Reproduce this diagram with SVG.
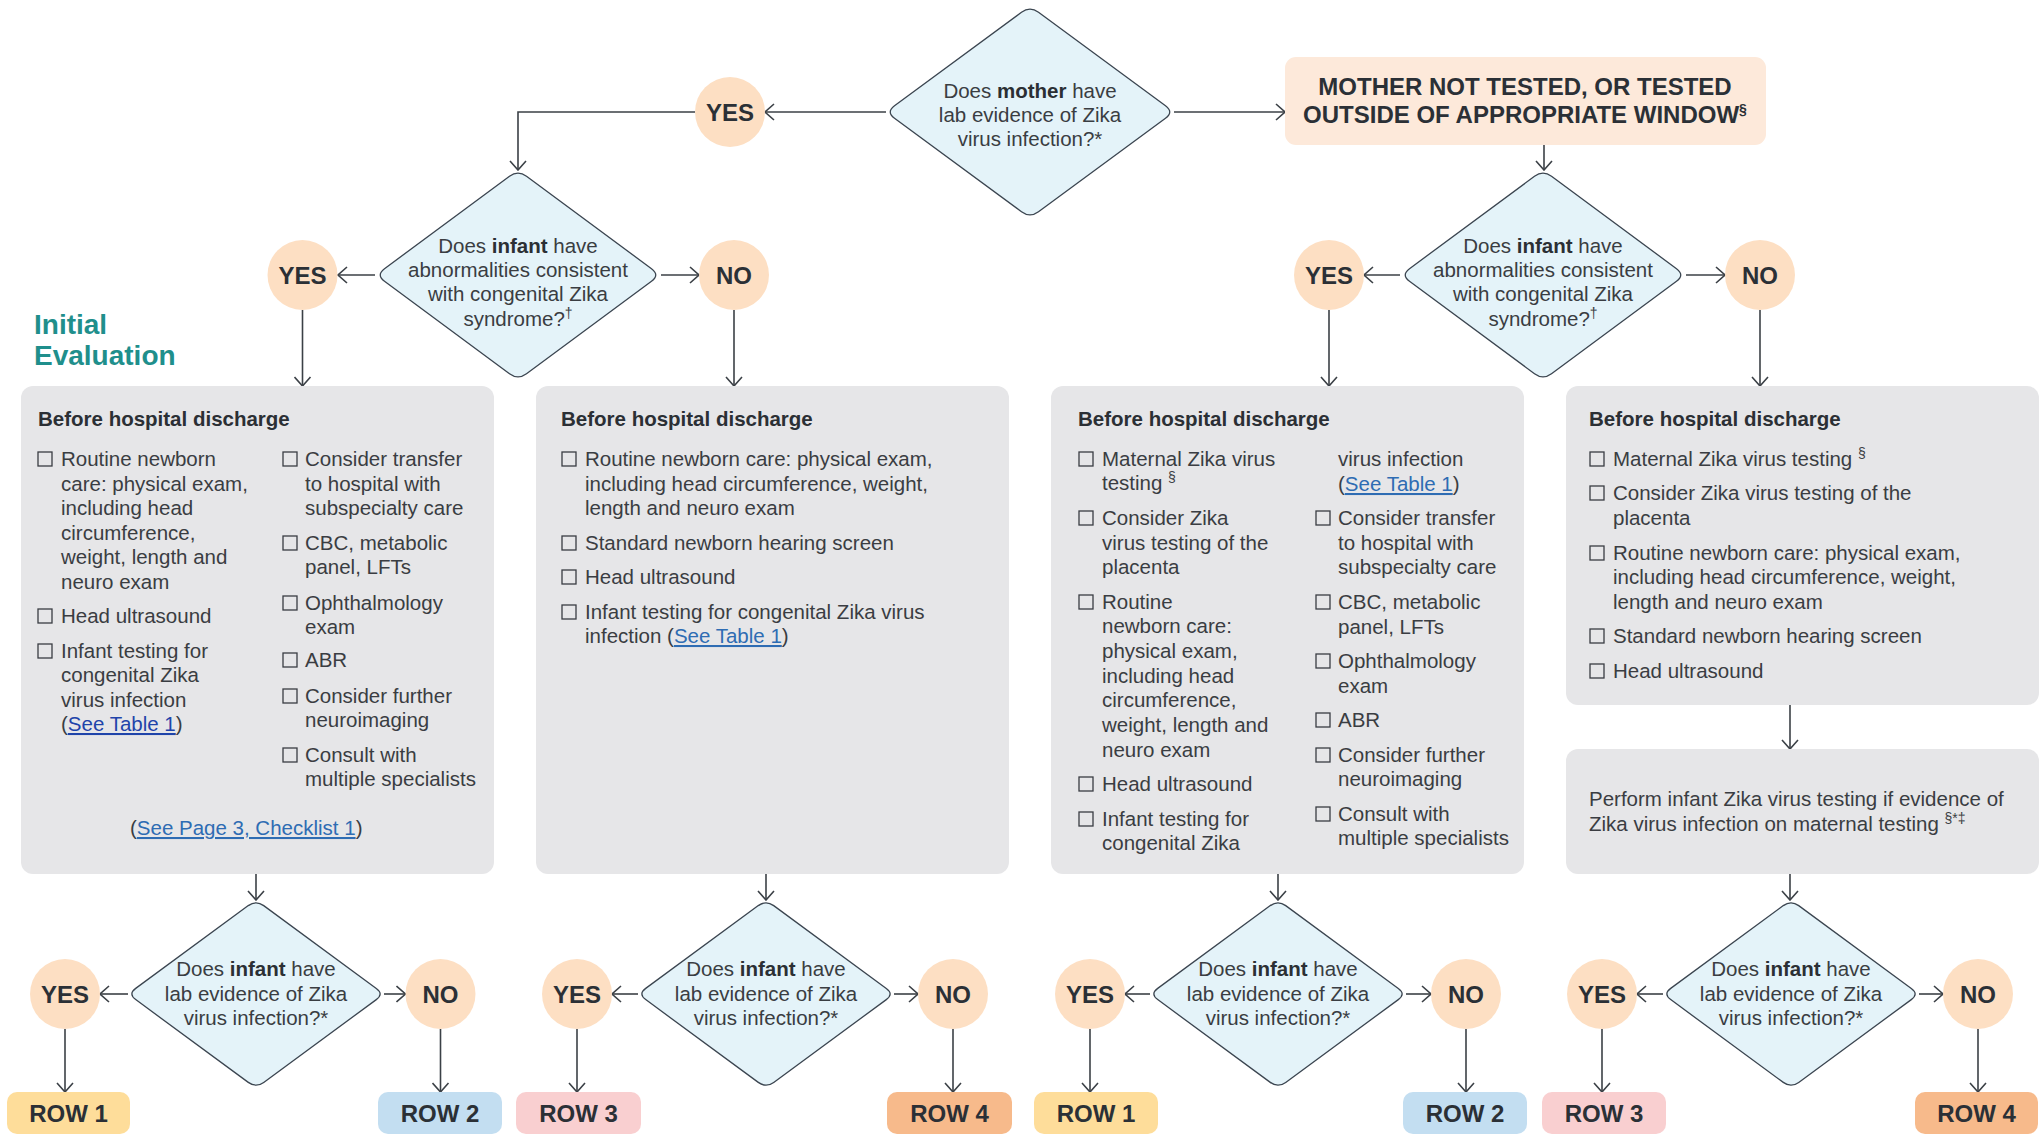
<svg xmlns="http://www.w3.org/2000/svg" width="2040" height="1135" viewBox="0 0 2040 1135">
<style>
.t{font-family:"Liberation Sans",Arial,Helvetica,sans-serif;font-size:20.5px;fill:#3a3d42}
.b{font-weight:bold;fill:#2b2f34}
.m{text-anchor:middle}
.lbl{font-family:"Liberation Sans",Arial,Helvetica,sans-serif;font-size:24px;font-weight:bold;fill:#2b3036;text-anchor:middle}
.ev{font-family:"Liberation Sans",Arial,Helvetica,sans-serif;font-size:28px;font-weight:bold;fill:#1f8f8c}
.lk{fill:#2e6cb3;text-decoration:underline}
.lk1{fill:#1f44aa;text-decoration:underline}
.cb{fill:none;stroke:#3a3d42;stroke-width:1.3}
.box{fill:#e6e6e8}
.dia{fill:#e4f3f9;stroke:#3b4550;stroke-width:1.3}
.circ{fill:#fddfc3}
.conn{fill:none;stroke:#3b4046;stroke-width:1.6;marker-end:url(#arr)}
.sup{font-size:14px}
</style>
<defs>
<marker id="arr" viewBox="0 0 11 18" refX="10" refY="9" markerWidth="11" markerHeight="18" markerUnits="userSpaceOnUse" orient="auto">
<path d="M1,1 L10,9 L1,17" fill="none" stroke="#3b4046" stroke-width="1.6"/>
</marker>
<path id="dBig" d="M-8.5,-98.7 Q0,-105 8.5,-98.7 L133.5,-6.3 Q142,0 133.5,6.3 L8.5,98.7 Q0,105 -8.5,98.7 L-133.5,6.3 Q-142,0 -133.5,-6.3 Z"/>
<path id="dMom" d="M-8.5,-99.7 Q0,-106 8.5,-99.7 L135.5,-6.3 Q144,0 135.5,6.3 L8.5,99.7 Q0,106 -8.5,99.7 L-135.5,6.3 Q-144,0 -135.5,-6.3 Z"/>
<path id="dSm" d="M-7.7,-88.4 Q0,-94 7.7,-88.4 L120.3,-5.6 Q128,0 120.3,5.6 L7.7,88.4 Q0,94 -7.7,88.4 L-120.3,5.6 Q-128,0 -120.3,-5.6 Z"/>
</defs>

<g id="connectors">
<path class="conn" d="M886,112 L765,112"/>
<path class="conn" d="M695,112 L518,112 L518,170"/>
<path class="conn" d="M1174,112 L1285,112"/>
<path class="conn" d="M1544,145 L1544,170"/>
<path class="conn" d="M375,275 L338,275"/>
<path class="conn" d="M661,275 L699,275"/>
<path class="conn" d="M302.5,310 L302.5,386"/>
<path class="conn" d="M734,310 L734,386"/>
<path class="conn" d="M1400,275 L1364,275"/>
<path class="conn" d="M1686,275 L1725,275"/>
<path class="conn" d="M1329,310 L1329,386"/>
<path class="conn" d="M1760,310 L1760,386"/>
<path class="conn" d="M256,874 L256,900"/>
<path class="conn" d="M766,874 L766,900"/>
<path class="conn" d="M1278,874 L1278,900"/>
<path class="conn" d="M1790,874 L1790,900"/>
<path class="conn" d="M1790,705 L1790,749"/>
<path class="conn" d="M128,994 L100,994"/>
<path class="conn" d="M384,994 L405.5,994"/>
<path class="conn" d="M638,994 L612,994"/>
<path class="conn" d="M894,994 L918,994"/>
<path class="conn" d="M1150,994 L1125,994"/>
<path class="conn" d="M1406,994 L1431,994"/>
<path class="conn" d="M1663,994 L1637,994"/>
<path class="conn" d="M1919,994 L1943,994"/>
<path class="conn" d="M65,1029 L65,1092"/>
<path class="conn" d="M440.5,1029 L440.5,1092"/>
<path class="conn" d="M577,1029 L577,1092"/>
<path class="conn" d="M953,1029 L953,1092"/>
<path class="conn" d="M1090,1029 L1090,1092"/>
<path class="conn" d="M1466,1029 L1466,1092"/>
<path class="conn" d="M1602,1029 L1602,1092"/>
<path class="conn" d="M1978,1029 L1978,1092"/>
</g>

<g id="q-mother">
<use href="#dMom" class="dia" transform="translate(1030,112)"/>
<text class="t m" x="1030" y="98">Does <tspan class="b">mother</tspan> have</text>
<text class="t m" x="1030" y="122">lab evidence of Zika</text>
<text class="t m" x="1030" y="146">virus infection?*</text>
</g>

<g id="mother-yes"><circle class="circ" cx="730" cy="112" r="35"/><text class="lbl" x="730" y="120.5">YES</text></g>

<g id="mother-not-tested">
<rect x="1285" y="57" width="481" height="88" rx="11" fill="#fde9da"/>
<text class="lbl" x="1525" y="95">MOTHER NOT TESTED, OR TESTED</text>
<text class="lbl" x="1525" y="123">OUTSIDE OF APPROPRIATE WINDOW<tspan class="sup" dy="-9">§</tspan></text>
</g>

<g id="initial-evaluation">
<text class="ev" x="34" y="334">Initial</text>
<text class="ev" x="34" y="365">Evaluation</text>
</g>

<g id="q-infant-1">
<use href="#dBig" class="dia" transform="translate(518,275)"/>
<text class="t m" x="518" y="253">Does <tspan class="b">infant</tspan> have</text>
<text class="t m" x="518" y="277">abnormalities consistent</text>
<text class="t m" x="518" y="301">with congenital Zika</text>
<text class="t m" x="518" y="326">syndrome?<tspan class="sup" dy="-8">†</tspan></text>
</g>
<g id="i1-yes"><circle class="circ" cx="302.5" cy="275" r="35"/><text class="lbl" x="302.5" y="283.5">YES</text></g>
<g id="i1-no"><circle class="circ" cx="734" cy="275" r="35"/><text class="lbl" x="734" y="283.5">NO</text></g>

<g id="q-infant-2">
<use href="#dBig" class="dia" transform="translate(1543,275)"/>
<text class="t m" x="1543" y="253">Does <tspan class="b">infant</tspan> have</text>
<text class="t m" x="1543" y="277">abnormalities consistent</text>
<text class="t m" x="1543" y="301">with congenital Zika</text>
<text class="t m" x="1543" y="326">syndrome?<tspan class="sup" dy="-8">†</tspan></text>
</g>
<g id="i2-yes"><circle class="circ" cx="1329" cy="275" r="35"/><text class="lbl" x="1329" y="283.5">YES</text></g>
<g id="i2-no"><circle class="circ" cx="1760" cy="275" r="35"/><text class="lbl" x="1760" y="283.5">NO</text></g>

<g id="box-1">
<rect class="box" x="21" y="386" width="473" height="488" rx="12"/>
<text class="t b" x="38" y="426">Before hospital discharge</text>
<rect class="cb" x="38" y="452" width="14" height="14"/>
<text class="t" x="61" y="466">Routine newborn</text>
<text class="t" x="61" y="491">care: physical exam,</text>
<text class="t" x="61" y="515">including head</text>
<text class="t" x="61" y="540">circumference,</text>
<text class="t" x="61" y="564">weight, length and</text>
<text class="t" x="61" y="589">neuro exam</text>
<rect class="cb" x="38" y="609" width="14" height="14"/>
<text class="t" x="61" y="623">Head ultrasound</text>
<rect class="cb" x="38" y="644" width="14" height="14"/>
<text class="t" x="61" y="658">Infant testing for</text>
<text class="t" x="61" y="682">congenital Zika</text>
<text class="t" x="61" y="707">virus infection</text>
<text class="t" x="61" y="731">(<tspan class="lk1">See Table 1</tspan>)</text>
<rect class="cb" x="283" y="452" width="14" height="14"/>
<text class="t" x="305" y="466">Consider transfer</text>
<text class="t" x="305" y="491">to hospital with</text>
<text class="t" x="305" y="515">subspecialty care</text>
<rect class="cb" x="283" y="536" width="14" height="14"/>
<text class="t" x="305" y="550">CBC, metabolic</text>
<text class="t" x="305" y="574">panel, LFTs</text>
<rect class="cb" x="283" y="596" width="14" height="14"/>
<text class="t" x="305" y="610">Ophthalmology</text>
<text class="t" x="305" y="634">exam</text>
<rect class="cb" x="283" y="653" width="14" height="14"/>
<text class="t" x="305" y="667">ABR</text>
<rect class="cb" x="283" y="689" width="14" height="14"/>
<text class="t" x="305" y="703">Consider further</text>
<text class="t" x="305" y="727">neuroimaging</text>
<rect class="cb" x="283" y="748" width="14" height="14"/>
<text class="t" x="305" y="762">Consult with</text>
<text class="t" x="305" y="786">multiple specialists</text>
<text class="t" x="130" y="835">(<tspan class="lk">See Page 3, Checklist 1</tspan>)</text>
</g>

<g id="box-2">
<rect class="box" x="536" y="386" width="473" height="488" rx="12"/>
<text class="t b" x="561" y="426">Before hospital discharge</text>
<rect class="cb" x="562" y="452" width="14" height="14"/>
<text class="t" x="585" y="466">Routine newborn care: physical exam,</text>
<text class="t" x="585" y="491">including head circumference, weight,</text>
<text class="t" x="585" y="515">length and neuro exam</text>
<rect class="cb" x="562" y="536" width="14" height="14"/>
<text class="t" x="585" y="550">Standard newborn hearing screen</text>
<rect class="cb" x="562" y="570" width="14" height="14"/>
<text class="t" x="585" y="584">Head ultrasound</text>
<rect class="cb" x="562" y="605" width="14" height="14"/>
<text class="t" x="585" y="619">Infant testing for congenital Zika virus</text>
<text class="t" x="585" y="643">infection (<tspan class="lk">See Table 1</tspan>)</text>
</g>

<g id="box-3">
<rect class="box" x="1051" y="386" width="473" height="488" rx="12"/>
<text class="t b" x="1078" y="426">Before hospital discharge</text>
<rect class="cb" x="1079" y="452" width="14" height="14"/>
<text class="t" x="1102" y="466">Maternal Zika virus</text>
<text class="t" x="1102" y="490">testing <tspan class="sup" dy="-8">§</tspan></text>
<rect class="cb" x="1079" y="511" width="14" height="14"/>
<text class="t" x="1102" y="525">Consider Zika</text>
<text class="t" x="1102" y="550">virus testing of the</text>
<text class="t" x="1102" y="574">placenta</text>
<rect class="cb" x="1079" y="595" width="14" height="14"/>
<text class="t" x="1102" y="609">Routine</text>
<text class="t" x="1102" y="633">newborn care:</text>
<text class="t" x="1102" y="658">physical exam,</text>
<text class="t" x="1102" y="683">including head</text>
<text class="t" x="1102" y="707">circumference,</text>
<text class="t" x="1102" y="732">weight, length and</text>
<text class="t" x="1102" y="757">neuro exam</text>
<rect class="cb" x="1079" y="777" width="14" height="14"/>
<text class="t" x="1102" y="791">Head ultrasound</text>
<rect class="cb" x="1079" y="812" width="14" height="14"/>
<text class="t" x="1102" y="826">Infant testing for</text>
<text class="t" x="1102" y="850">congenital Zika</text>
<text class="t" x="1338" y="466">virus infection</text>
<text class="t" x="1338" y="491">(<tspan class="lk">See Table 1</tspan>)</text>
<rect class="cb" x="1316" y="511" width="14" height="14"/>
<text class="t" x="1338" y="525">Consider transfer</text>
<text class="t" x="1338" y="550">to hospital with</text>
<text class="t" x="1338" y="574">subspecialty care</text>
<rect class="cb" x="1316" y="595" width="14" height="14"/>
<text class="t" x="1338" y="609">CBC, metabolic</text>
<text class="t" x="1338" y="634">panel, LFTs</text>
<rect class="cb" x="1316" y="654" width="14" height="14"/>
<text class="t" x="1338" y="668">Ophthalmology</text>
<text class="t" x="1338" y="693">exam</text>
<rect class="cb" x="1316" y="713" width="14" height="14"/>
<text class="t" x="1338" y="727">ABR</text>
<rect class="cb" x="1316" y="748" width="14" height="14"/>
<text class="t" x="1338" y="762">Consider further</text>
<text class="t" x="1338" y="786">neuroimaging</text>
<rect class="cb" x="1316" y="807" width="14" height="14"/>
<text class="t" x="1338" y="821">Consult with</text>
<text class="t" x="1338" y="845">multiple specialists</text>
</g>

<g id="box-4a">
<rect class="box" x="1566" y="386" width="473" height="319" rx="12"/>
<text class="t b" x="1589" y="426">Before hospital discharge</text>
<rect class="cb" x="1590" y="452" width="14" height="14"/>
<text class="t" x="1613" y="466">Maternal Zika virus testing <tspan class="sup" dy="-8">§</tspan></text>
<rect class="cb" x="1590" y="486" width="14" height="14"/>
<text class="t" x="1613" y="500">Consider Zika virus testing of the</text>
<text class="t" x="1613" y="525">placenta</text>
<rect class="cb" x="1590" y="546" width="14" height="14"/>
<text class="t" x="1613" y="560">Routine newborn care: physical exam,</text>
<text class="t" x="1613" y="584">including head circumference, weight,</text>
<text class="t" x="1613" y="609">length and neuro exam</text>
<rect class="cb" x="1590" y="629" width="14" height="14"/>
<text class="t" x="1613" y="643">Standard newborn hearing screen</text>
<rect class="cb" x="1590" y="664" width="14" height="14"/>
<text class="t" x="1613" y="678">Head ultrasound</text>
</g>

<g id="box-4b">
<rect class="box" x="1566" y="749" width="473" height="125" rx="12"/>
<text class="t" x="1589" y="806">Perform infant Zika virus testing if evidence of</text>
<text class="t" x="1589" y="831">Zika virus infection on maternal testing <tspan class="sup" dy="-8">§*‡</tspan></text>
</g>

<g id="q-lab-1">
<use href="#dSm" class="dia" transform="translate(256,994)"/>
<text class="t m" x="256" y="976">Does <tspan class="b">infant</tspan> have</text>
<text class="t m" x="256" y="1001">lab evidence of Zika</text>
<text class="t m" x="256" y="1025">virus infection?*</text>
</g>
<g id="l1-yes"><circle class="circ" cx="65" cy="994" r="35"/><text class="lbl" x="65" y="1002.5">YES</text></g>
<g id="l1-no"><circle class="circ" cx="440.5" cy="994" r="35"/><text class="lbl" x="440.5" y="1002.5">NO</text></g>

<g id="q-lab-2">
<use href="#dSm" class="dia" transform="translate(766,994)"/>
<text class="t m" x="766" y="976">Does <tspan class="b">infant</tspan> have</text>
<text class="t m" x="766" y="1001">lab evidence of Zika</text>
<text class="t m" x="766" y="1025">virus infection?*</text>
</g>
<g id="l2-yes"><circle class="circ" cx="577" cy="994" r="35"/><text class="lbl" x="577" y="1002.5">YES</text></g>
<g id="l2-no"><circle class="circ" cx="953" cy="994" r="35"/><text class="lbl" x="953" y="1002.5">NO</text></g>

<g id="q-lab-3">
<use href="#dSm" class="dia" transform="translate(1278,994)"/>
<text class="t m" x="1278" y="976">Does <tspan class="b">infant</tspan> have</text>
<text class="t m" x="1278" y="1001">lab evidence of Zika</text>
<text class="t m" x="1278" y="1025">virus infection?*</text>
</g>
<g id="l3-yes"><circle class="circ" cx="1090" cy="994" r="35"/><text class="lbl" x="1090" y="1002.5">YES</text></g>
<g id="l3-no"><circle class="circ" cx="1466" cy="994" r="35"/><text class="lbl" x="1466" y="1002.5">NO</text></g>

<g id="q-lab-4">
<use href="#dSm" class="dia" transform="translate(1791,994)"/>
<text class="t m" x="1791" y="976">Does <tspan class="b">infant</tspan> have</text>
<text class="t m" x="1791" y="1001">lab evidence of Zika</text>
<text class="t m" x="1791" y="1025">virus infection?*</text>
</g>
<g id="l4-yes"><circle class="circ" cx="1602" cy="994" r="35"/><text class="lbl" x="1602" y="1002.5">YES</text></g>
<g id="l4-no"><circle class="circ" cx="1978" cy="994" r="35"/><text class="lbl" x="1978" y="1002.5">NO</text></g>

<g id="row1-a"><rect x="7" y="1092" width="123" height="42" rx="10" fill="#fedd9a"/><text class="lbl" x="68.5" y="1122">ROW 1</text></g>
<g id="row2-a"><rect x="378" y="1092" width="124" height="42" rx="10" fill="#c3def1"/><text class="lbl" x="440" y="1122">ROW 2</text></g>
<g id="row3-a"><rect x="516" y="1092" width="125" height="42" rx="10" fill="#f9cfd0"/><text class="lbl" x="578.5" y="1122">ROW 3</text></g>
<g id="row4-a"><rect x="887" y="1092" width="125" height="42" rx="10" fill="#f7ba8b"/><text class="lbl" x="949.5" y="1122">ROW 4</text></g>
<g id="row1-b"><rect x="1034" y="1092" width="124" height="42" rx="10" fill="#fedd9a"/><text class="lbl" x="1096" y="1122">ROW 1</text></g>
<g id="row2-b"><rect x="1403" y="1092" width="124" height="42" rx="10" fill="#c3def1"/><text class="lbl" x="1465" y="1122">ROW 2</text></g>
<g id="row3-b"><rect x="1542" y="1092" width="124" height="42" rx="10" fill="#f9cfd0"/><text class="lbl" x="1604" y="1122">ROW 3</text></g>
<g id="row4-b"><rect x="1915" y="1092" width="123" height="42" rx="10" fill="#f7ba8b"/><text class="lbl" x="1976.5" y="1122">ROW 4</text></g>
</svg>
